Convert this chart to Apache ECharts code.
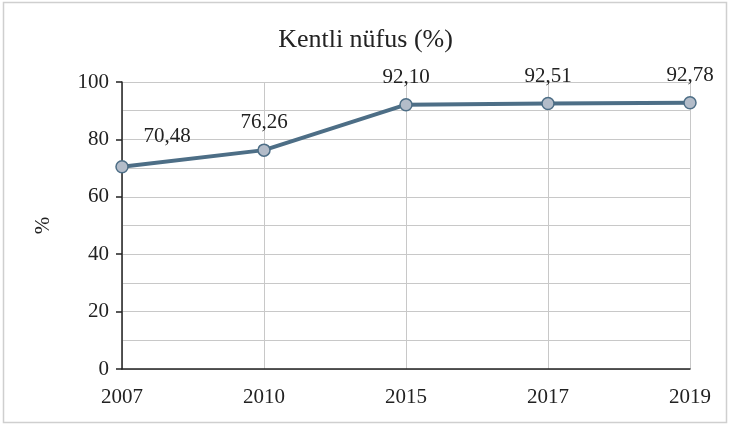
<!DOCTYPE html>
<html>
<head>
<meta charset="utf-8">
<script src="https://cdn.jsdelivr.net/npm/echarts@6/dist/echarts.min.js"></script>
<style>
  html, body { margin: 0; padding: 0; background: #fff; }
  #chart { width: 731px; height: 428px; }
</style>
</head>
<body>
<div id="chart"></div>
<script>
// veriler
var years = ['2007', '2010', '2015', '2017', '2019'];
var urban = [70.48, 76.26, 92.10, 92.51, 92.78];
var yTicks = [0, 20, 40, 60, 80, 100];

var font = '"Liberation Serif", "DejaVu Serif", serif';
var chart = echarts.init(document.getElementById('chart'));

function fmt(v) {
    return v.toFixed(2).replace('.', ',');
}

var points = urban.map(function (v, i) {
    var p = { value: v };
    if (i === 0) {
        p.label = { offset: [45, -3] };
    }
    return p;
});

var option = {
    backgroundColor: '#fff',
    animation: false,
    title: {
        text: 'Kentli nüfus (%)',
        left: 'center',
        top: 22,
        textStyle: { fontFamily: font, fontSize: 26, fontWeight: 'normal', color: '#222' }
    },
    graphic: [{
        type: 'rect',
        shape: { x: 3.5, y: 2.5, width: 723, height: 420 },
        style: { fill: 'none', stroke: '#cfcfcf', lineWidth: 1.5 }
    }],
    grid: { left: 122, right: 41, top: 82, bottom: 59 },
    xAxis: {
        type: 'category',
        data: years,
        boundaryGap: false,
        axisLine: { lineStyle: { color: '#222', width: 1.5 } },
        axisTick: { show: false },
        axisLabel: { fontFamily: font, fontSize: 21, color: '#222', margin: 18 },
        splitLine: { show: true, lineStyle: { color: '#c8c8c8', width: 1 } }
    },
    yAxis: {
        type: 'value',
        min: yTicks[0],
        max: yTicks[yTicks.length - 1],
        interval: 20,
        name: '%',
        nameLocation: 'middle',
        nameRotate: 90,
        nameGap: 68,
        nameTextStyle: { fontFamily: font, fontSize: 21, color: '#222' },
        axisLine: { show: true, lineStyle: { color: '#222', width: 1.5 } },
        axisTick: { show: true, length: 6, lineStyle: { color: '#222', width: 1.5 } },
        axisLabel: { fontFamily: font, fontSize: 21, color: '#222', margin: 13 },
        splitLine: { lineStyle: { color: '#c8c8c8', width: 1 } },
        minorTick: { show: false, splitNumber: 2 },
        minorSplitLine: { show: true, lineStyle: { color: '#c8c8c8', width: 1 } }
    },
    series: [{
        name: 'Kentli nüfus',
        type: 'line',
        data: points,
        symbol: 'circle',
        symbolSize: 12,
        lineStyle: { color: '#4d6e86', width: 4 },
        itemStyle: { color: '#b3bcc9', borderColor: '#4d6e86', borderWidth: 1.5 },
        label: {
            show: true,
            position: 'top',
            distance: 10,
            fontFamily: font,
            fontSize: 21,
            color: '#222',
            formatter: function (p) { return fmt(p.value); }
        }
    }]
};

chart.setOption(option);
</script>
</body>
</html>
